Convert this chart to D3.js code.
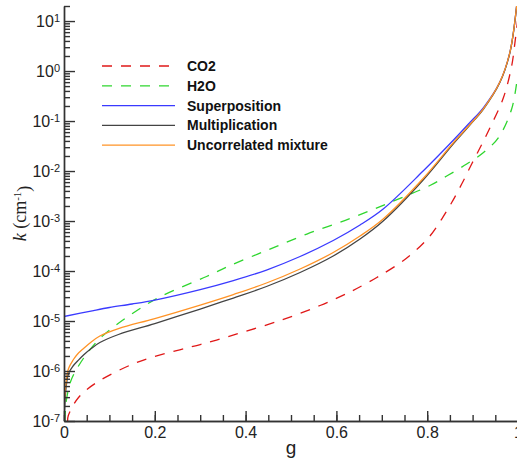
<!DOCTYPE html>
<html lang="en">
<head>
    <meta charset="utf-8">
    <title>k-distribution</title>
    <script src="https://d3js.org/d3.v7.min.js"></script>
    <style>
        body { margin: 0; background: white; }
        svg { display: block; }
        .legend text { font-family: "Liberation Sans", Arial, sans-serif; font-size: 14px; font-weight: bold; fill: #111; }
    </style>
</head>
<body>
    <svg id="chart" width="517" height="462"></svg>
    <script>
        // values: g and log10 of k (cm^-1)
        var co2G = [0.008, 0.0095, 0.032, 0.072, 0.16, 0.248, 0.30, 0.336, 0.388, 0.476, 0.564, 0.623, 0.645, 0.689, 0.755, 0.806, 0.832, 0.854, 0.876, 0.898, 0.92, 0.938, 0.968, 0.986, 0.993, 0.999];
        var co2LogK = [-7.0, -6.89, -6.53, -6.23, -5.83, -5.59, -5.47, -5.38, -5.24, -4.99, -4.69, -4.45, -4.35, -4.13, -3.74, -3.30, -2.96, -2.63, -2.26, -1.86, -1.47, -1.14, -0.53, 0.1, 0.55, 1.0];

        var h2oG = [0.002, 0.005, 0.015, 0.028, 0.053, 0.086, 0.149, 0.211, 0.314, 0.366, 0.446, 0.535, 0.63, 0.718, 0.806, 0.843, 0.887, 0.924, 0.957, 0.986, 0.999];
        var h2oLogK = [-7.0, -6.6, -6.2, -5.96, -5.62, -5.29, -4.86, -4.52, -4.11, -3.89, -3.59, -3.26, -2.95, -2.63, -2.29, -2.10, -1.86, -1.63, -1.33, -0.76, -0.1];

        var supG = [0, 0.065, 0.1, 0.15, 0.2, 0.30, 0.373, 0.446, 0.52, 0.593, 0.652, 0.703, 0.791, 0.858, 0.894, 0.924, 0.96, 0.982, 0.997];
        var supLogK = [-4.91, -4.79, -4.73, -4.66, -4.58, -4.37, -4.19, -3.98, -3.71, -3.39, -3.08, -2.76, -2.0, -1.38, -1.03, -0.73, -0.22, 0.37, 1.3];

        var mulG = [0.001, 0.005, 0.01, 0.02, 0.03, 0.043, 0.06, 0.079, 0.12, 0.2, 0.30, 0.373, 0.446, 0.52, 0.593, 0.652, 0.703, 0.791, 0.858, 0.894, 0.924, 0.96, 0.982, 0.997];
        var mulLogK = [-6.8, -6.3, -6.05, -5.9, -5.8, -5.68, -5.55, -5.43, -5.27, -5.05, -4.76, -4.54, -4.31, -4.03, -3.70, -3.36, -3.0, -2.18, -1.45, -1.08, -0.76, -0.23, 0.36, 1.3];

        var uncG = [0.001, 0.005, 0.01, 0.02, 0.03, 0.043, 0.06, 0.079, 0.12, 0.2, 0.30, 0.373, 0.446, 0.52, 0.593, 0.652, 0.703, 0.791, 0.858, 0.894, 0.924, 0.96, 0.982, 0.997];
        var uncLogK = [-6.6, -6.2, -5.95, -5.78, -5.66, -5.55, -5.42, -5.30, -5.15, -4.95, -4.68, -4.47, -4.24, -3.96, -3.63, -3.30, -2.96, -2.15, -1.43, -1.07, -0.75, -0.22, 0.37, 1.3];

        var seriesNames = ["CO2", "H2O", "Superposition", "Multiplication", "Uncorrelated mixture"];
        var xTicks = [0, 0.2, 0.4, 0.6, 0.8, 1];
        var yExponents = [-7, -6, -5, -4, -3, -2, -1, 0, 1];

        var series = [
            { name: seriesNames[0], g: co2G, lk: co2LogK, color: "#e01818", dash: "10,9" },
            { name: seriesNames[1], g: h2oG, lk: h2oLogK, color: "#2fd62f", dash: "10,9" },
            { name: seriesNames[2], g: supG, lk: supLogK, color: "#3a3aff", dash: null },
            { name: seriesNames[3], g: mulG, lk: mulLogK, color: "#444444", dash: null },
            { name: seriesNames[4], g: uncG, lk: uncLogK, color: "#ff9326", dash: null }
        ];

        var svg = d3.select("#chart");
        var plotL = 64, plotR = 518, plotT = 6, plotB = 421;
        var tickFont = "'Liberation Sans', Arial, sans-serif";

        var x = d3.scaleLinear().domain([0, 1]).range([plotL, plotR]);
        var y = d3.scaleLog().domain([1e-7, 20]).range([plotB, plotT]);

        svg.append("clipPath").attr("id", "plot-clip")
            .append("rect").attr("x", plotL).attr("y", plotT)
            .attr("width", plotR - plotL).attr("height", plotB - plotT);

        var line = d3.line()
            .x(d => x(d[0]))
            .y(d => y(d[1]))
            .curve(d3.curveCatmullRom.alpha(0.5));

        var g = svg.append("g").attr("clip-path", "url(#plot-clip)");
        series.forEach(s => {
            g.append("path")
                .datum(s.g.map((v, i) => [v, Math.pow(10, s.lk[i])]))
                .attr("d", line)
                .attr("fill", "none")
                .attr("stroke", s.color)
                .attr("stroke-width", 1.3)
                .attr("stroke-dasharray", s.dash);
        });

        // x axis, ticks pointing inward
        var xMinor = d3.range(0, 1.0001, 0.05);
        svg.append("g")
            .attr("transform", "translate(0," + plotB + ")")
            .call(d3.axisBottom(x).tickValues(xMinor).tickSize(-6).tickSizeOuter(0).tickFormat(""));
        var xAxis = svg.append("g")
            .attr("transform", "translate(0," + plotB + ")")
            .call(d3.axisBottom(x).tickValues(xTicks).tickSize(-10).tickSizeOuter(0).tickPadding(6)
                .tickFormat(d => d === 0 || d === 1 ? d : d.toFixed(1)));
        xAxis.selectAll("text").style("font-family", tickFont).style("font-size", "16px").attr("fill", "#222");

        // y axis
        var yMinor = [];
        yExponents.forEach(e => {
            for (var m = 2; m <= 9; m++) {
                var v = m * Math.pow(10, e);
                if (v <= 20) yMinor.push(v);
            }
        });
        svg.append("g")
            .attr("transform", "translate(" + plotL + ",0)")
            .call(d3.axisLeft(y).tickValues(yMinor).tickSize(-6).tickSizeOuter(0).tickFormat(""));
        var yAxis = svg.append("g")
            .attr("transform", "translate(" + plotL + ",0)")
            .call(d3.axisLeft(y).tickValues(yExponents.map(e => Math.pow(10, e)))
                .tickSize(-11).tickSizeOuter(0).tickFormat(""));

        yAxis.selectAll(".tick text").remove();
        yAxis.selectAll(".tick").each(function(d) {
            var e = Math.round(Math.log10(d));
            var t = d3.select(this).append("text")
                .attr("x", -4).attr("dy", "0.36em")
                .attr("text-anchor", "end")
                .style("font-family", tickFont).style("font-size", "16px").attr("fill", "#222");
            t.append("tspan").text("10");
            t.append("tspan").attr("dy", "-0.5em").style("font-size", "11px")
                .text(e < 0 ? "-" + Math.abs(e) : e);
        });

        svg.selectAll(".domain, .tick line").attr("stroke", "#333").attr("stroke-width", 1.4);

        // axis titles
        svg.append("text")
            .attr("x", (plotL + plotR) / 2).attr("y", 454)
            .attr("text-anchor", "middle")
            .style("font-family", tickFont)
            .style("font-size", "19px").attr("fill", "#222")
            .text("g");

        var yTitle = svg.append("text")
            .attr("transform", "translate(26," + ((plotT + plotB) / 2) + ") rotate(-90)")
            .attr("text-anchor", "middle")
            .style("font-family", "'Liberation Serif', 'Times New Roman', serif")
            .style("font-size", "18px").attr("fill", "#222");
        yTitle.append("tspan").style("font-style", "italic").text("k");
        yTitle.append("tspan").text(" (cm");
        yTitle.append("tspan").attr("dy", "-0.5em").style("font-size", "11px").text("-1");
        yTitle.append("tspan").attr("dy", "0.5em").text(")");

        // legend
        var legend = svg.append("g").attr("class", "legend");
        series.forEach((s, i) => {
            var ly = 66 + i * 19.8;
            legend.append("line")
                .attr("x1", 102).attr("x2", 175).attr("y1", ly).attr("y2", ly)
                .attr("stroke", s.color).attr("stroke-width", 1.3)
                .attr("stroke-dasharray", s.dash);
            legend.append("text").attr("x", 187).attr("y", ly).attr("dy", "0.36em").text(s.name);
        });
    </script>
</body>
</html>
